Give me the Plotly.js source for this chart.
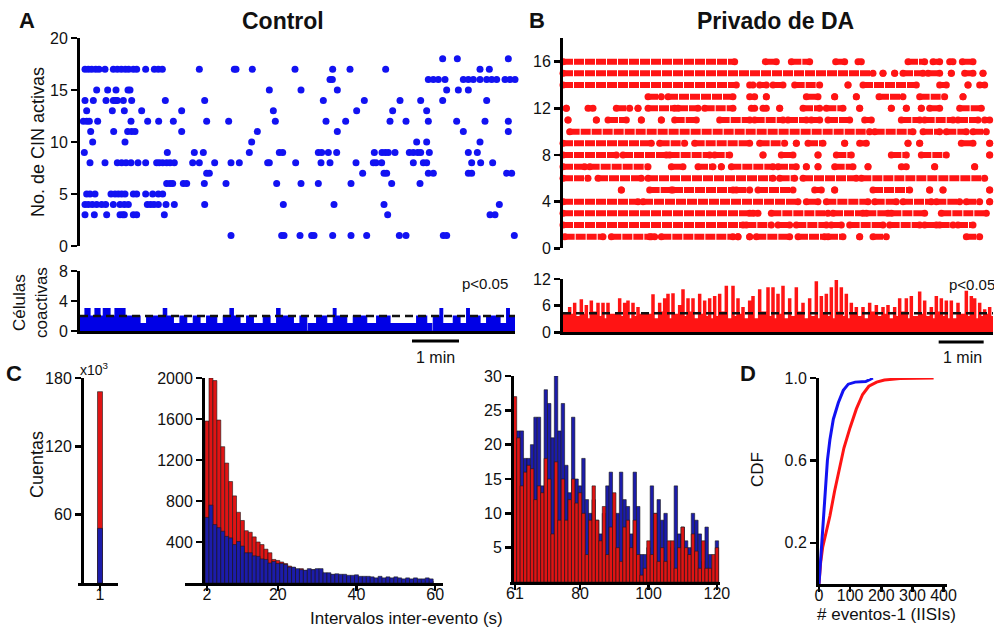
<!DOCTYPE html>
<html><head><meta charset="utf-8">
<script src="https://cdn.plot.ly/plotly-3.0.1.min.js"></script>
<style>html,body{margin:0;padding:0;background:#fff}#chart{width:994px;height:630px}</style>
</head><body><div id="chart"></div>
<script>
// ---------- Panel A raster (Control): event frames per cell ----------
const ctl18 = [1088,1132,1285];
const ctl17 = [15,25,35,47,57,75,100,112,124,136,146,160,170,197,223,235,247,358,463,468,517,645,758,810,917,1200,1228];
const ctl16 = [750,757,1045,1060,1075,1095,1150,1165,1180,1200,1220,1235,1250,1275,1290,1305];
const ctl15 = [50,83,108,144,150,568,663,772,1100,1135,1165];
const ctl14 = [15,40,78,100,107,112,130,155,256,374,730,853,960,1022,1088,1220];
const ctl13 = [20,97,133,185,305,580,830,938,1040];
const ctl12 = [10,20,28,53,153,203,236,280,380,446,586,738,797,930,978,1045,1130,1215,1285];
const ctl11 = [32,101,143,155,165,305,532,772,1150,1285];
const ctl10 = [38,135,515,1010,1040,1200];
const ctl9  = [13,262,343,370,508,598,608,715,725,745,770,883,906,916,925,945,988,1000,1013,1022,1048,1165,1192];
const ctl8  = [30,75,112,125,138,153,174,197,230,238,248,260,270,283,338,358,404,453,478,563,568,647,723,750,828,880,888,905,1000,1030,1040,1175,1202,1238];
const ctl7  = [380,388,848,912,920,1045,1060,1165,1175,1280,1295];
const ctl6  = [260,270,278,310,320,373,438,590,663,715,813,935,1020];
const ctl5  = [20,30,45,93,105,115,125,135,160,170,197,218,235,248];
const ctl4  = [15,25,37,50,65,77,100,120,133,145,202,212,222,235,258,283,374,610,762,912,1258];
const ctl3  = [15,43,80,120,128,133,160,170,253,923,1230,1245];
const ctl1  = [453,605,612,660,695,702,758,813,860,958,978,1090,1100,1303];

// ---------- Panel B raster (Privado de DA): active runs [start,end] per cell ----------
const da16 = [[0,515],[607,640],[685,740],[818,845],[885,895],[1035,1085],[1110,1130],[1160,1170],[1198,1230]];
const da15 = [[0,930],[960,960],[995,995],[1020,1080],[1095,1130],[1165,1165],[1205,1230],[1260,1260]];
const da14 = [[0,520],[560,570],[590,610],[630,660],[695,770],[855,855],[900,1060],[1130,1150],[1215,1215],[1250,1265]];
const da13 = [[255,295],[315,510],[560,575],[610,610],[730,765],[815,815],[880,880],[948,1020],[1070,1145],[1200,1200]];
const da12 = [[10,10],[75,90],[160,200],[225,225],[255,335],[345,405],[425,510],[565,575],[600,610],[650,650],[720,770],[790,840],[890,890],[985,985],[1030,1030],[1075,1075],[1100,1130],[1190,1255]];
const da11 = [[15,15],[100,100],[135,190],[235,235],[295,295],[335,400],[470,560],[575,660],[675,730],[745,770],[795,860],[905,925],[1015,1070],[1085,1170],[1185,1245],[1265,1280]];
const da10 = [[20,920],[935,1050],[1080,1130],[1150,1210],[1230,1270]];
const da9  = [[0,265],[290,365],[395,560],[590,665],[700,700],[735,780],[845,845],[890,910],[1035,1035],[1070,1070],[1195,1230],[1280,1280]];
const da8  = [[0,160],[180,310],[320,440],[455,500],[600,600],[655,690],[765,765],[820,865],[985,1030],[1075,1150],[1280,1280]];
const da7  = [[0,65],[80,255],[325,360],[405,450],[475,475],[505,630],[645,700],[730,730],[765,765],[815,870],[915,915],[1015,1030],[1115,1115],[1235,1235]];
const da6  = [[0,75],[105,235],[255,630],[650,695],[720,880],[895,1265]];
const da5  = [[175,175],[260,325],[330,510],[520,560],[585,690],[755,775],[815,815],[930,1040],[1100,1100],[1140,1140],[1280,1280]];
const da4  = [[0,225],[240,705],[730,765],[790,915],[935,1000],[1020,1105],[1120,1190],[1210,1250],[1280,1280]];
const da3  = [[0,560],[570,585],[625,795],[810,900],[910,975],[985,1085],[1135,1270]];
const da2  = [[0,540],[550,625],[645,680],[700,790],[805,835],[860,960],[980,1070],[1085,1120],[1130,1170],[1185,1230]];
const da1  = [[5,120],[145,260],[265,275],[295,510],[525,525],[560,560],[580,680],[705,785],[795,840],[890,890],[930,970],[1210,1250]];

// ---------- Coactive cells ----------
const coA_t = [0,15,30,45,60,70,90,105,135,180,200,250,260,280,300,320,340,360,380,410,430,450,460,480,500,520,550,570,590,600,640,660,680,685,710,740,760,768,800,820,860,890,930,960,1010,1040,1055,1060,1080,1088,1120,1140,1160,1168,1200,1220,1260,1280,1288];
const coA_v = [2,3,2,3,2,3,2,3,2,1,2,3,2,1,2,1,2,1,2,1,2,3,2,1,2,1,2,1,3,2,1,2,0,1,2,1,3,2,1,2,1,2,1,1,2,1,0,2,3,1,2,1,3,2,1,2,1,3,2];
const coA_end = 1305;
const threshA = 2.0;

const coB_peakT = [20,35,55,70,85,105,120,135,170,185,195,210,225,270,290,305,315,330,350,360,375,390,410,425,440,455,470,490,510,525,540,560,570,590,615,630,645,660,680,700,720,740,760,775,790,805,820,835,850,865,880,900,920,940,960,975,995,1010,1030,1045,1070,1085,1105,1120,1135,1150,1165,1185,1210,1225,1235,1250,1265,1280];
const coB_peakV = [5.5,6.5,7.3,6,7,6.5,6.5,6.5,7.5,6.5,7,6.5,5.5,8.4,6.5,7.5,8.5,8.6,6,9.5,7.5,7.5,8.5,7,7.5,8,8.5,10.3,10.3,7.5,5.5,7,8,9.5,10,10,8.5,10.3,7.5,10,6.5,7.5,11.3,8,8.5,10,11.6,10,8.5,6.5,5.5,5.5,6.5,6,5.5,6,5.5,7.5,7.5,8,9,7,5.5,8,7.5,7,7,6.5,9.2,8,7.5,6.5,5,5.5];
const coB_troughV = [4,3.5,4,3,4.5,3.5,3,4,3.5,4.5,3,3.5,4,3,4.5,3.5,3,4,3,3.5,4.5,3,4,3.5,3,3.5,4.5,3,3.5,4,3,3.5,3,4.5,3.5,3,4,3,3.5,4.5,3,3.5,3,4,3.5,3,4.5,3.5,3,4,3.5,3,4.5,3.5,4,3,3.5,4.5,3,3.5,4,3.5,3,4.5,3.5,3,3,4,3.5,4.5,3,3.5,4,3.5];
const coB_start = 4, coB_end = 1290;
const threshB = 4.3;

// ---------- Panel C histograms ----------
const c1Bin = [1];
const c1Red = [168];
const c1Blue = [48];

const c2Bins = [2,3,4,5,6,7,8,9,10,11,12,13,14,15,16,17,18,19,20,21,22,23,24,25,26,27,28,29,30,31,32,33,34,35,36,37,38,39,40,41,42,43,44,45,46,47,48,49,50,51,52,53,54,55,56,57,58,59];
const c2Red = [1580,2000,1975,1590,1330,1170,990,850,690,610,510,495,450,400,375,330,295,230,220,205,190,165,150,130,140,120,125,130,125,110,90,85,80,75,70,65,60,60,55,55,50,45,45,40,40,35,35,30,30,30,25,25,25,20,20,20,20,20];
const c2Blue = [640,760,570,540,505,455,440,375,405,360,295,295,265,260,235,230,195,210,190,190,180,155,155,140,130,125,140,130,140,140,100,100,85,90,85,85,75,75,80,65,65,65,60,50,65,50,60,50,60,50,40,50,40,50,40,40,50,40];

const c3Bins = [61,62,63,64,65,66,67,68,69,70,71,72,73,74,75,76,77,78,79,80,81,82,83,84,85,86,87,88,89,90,91,92,93,94,95,96,97,98,99,100,101,102,103,104,105,106,107,108,109,110,111,112,113,114,115,116,117,118,119,120];
const c3Red = [27,21,14,16,17,16.5,12,14,13,18,15,7,17.5,9,15,9,12,15,11.5,13,10,4,9,14,9,6,11,4,8,13,5,3,8,9,5,9,4,1,2,6,4,10,3,5,3,6,6,2,5,8,5,4,7,4.5,2,6,2,2,4,5];
const c3Blue = [20,22,22,18,18,20,24,24,14,28,26,21,30,22,26,17,13,24,15,14,18,12,10,12,9,7,10,14,16,9,10,16,12,11,7,16,11,4,4,5,14,10,12,9,10,3,5,14,7,8,6,5,10,9,7,3,8,4,2,6];

// ---------- Panel D CDF ----------
const cdfCtlX = [0,4,9,18,27,35,46,62,78,94,116,150,164,173];
const cdfCtlY = [0,0.1,0.2,0.4,0.6,0.7,0.8,0.88,0.94,0.97,0.98,0.983,0.993,1.0];
const cdfDaX = [0,5,12,22,35,50,65,80,100,120,140,160,185,210,260,368];
const cdfDaY = [0,0.1,0.18,0.24,0.33,0.45,0.56,0.66,0.76,0.85,0.92,0.96,0.98,0.99,0.997,1.0];

// ====================================================================
const W = 994, H = 630;
const fx = px => px / W;
const fy = py => 1 - py / H;
const FONT = 'Liberation Sans, Arial, Helvetica, sans-serif';
const BLUE = '#1212f2', RED = '#ff1414';
const HBLUE = '#1c1caa', HRED = '#e01414';

const traces = [];

// A raster
const ctlRows = [[18,ctl18],[17,ctl17],[16,ctl16],[15,ctl15],[14,ctl14],[13,ctl13],[12,ctl12],[11,ctl11],[10,ctl10],[9,ctl9],[8,ctl8],[7,ctl7],[6,ctl6],[5,ctl5],[4,ctl4],[3,ctl3],[1,ctl1]];
const ax = [], ay = [];
ctlRows.forEach(([r, arr]) => arr.forEach(t => { ax.push(t); ay.push(r); }));
traces.push({type:'scatter', mode:'markers', x:ax, y:ay, xaxis:'x', yaxis:'y',
  marker:{size:7, color:BLUE}, cliponaxis:false, hoverinfo:'skip'});

// B raster
const daRows = [[16,da16],[15,da15],[14,da14],[13,da13],[12,da12],[11,da11],[10,da10],[9,da9],[8,da8],[7,da7],[6,da6],[5,da5],[4,da4],[3,da3],[2,da2],[1,da1]];
const bx = [], by = [];
daRows.forEach(([r, runs]) => runs.forEach(([s, e]) => { bx.push(s, e, null); by.push(r, r, null); }));
traces.push({type:'scatter', mode:'lines+markers', x:bx, y:by, xaxis:'x3', yaxis:'y3',
  line:{color:RED, width:6, dash:'10px,1px'}, marker:{size:7, color:RED}, cliponaxis:false, connectgaps:false, hoverinfo:'skip'});

// A coactive
traces.push({type:'scatter', mode:'lines', x:coA_t.concat([coA_end]), y:coA_v.concat([coA_v[coA_v.length-1]]),
  xaxis:'x2', yaxis:'y2', line:{shape:'hv', color:'#0000e6', width:1.2}, fill:'tozeroy', fillcolor:'#0000e6', hoverinfo:'skip'});
traces.push({type:'scatter', mode:'lines', x:[0, coA_end], y:[threshA, threshA], xaxis:'x2', yaxis:'y2',
  line:{color:'#111', width:2.5, dash:'8px,5px'}, hoverinfo:'skip'});

// B coactive
const cbx = [0], cby = [coB_start];
coB_peakT.forEach((t, i) => { cbx.push(t - 3, t + 3); cby.push(coB_peakV[i], coB_troughV[i]); });
cbx.push(coB_end); cby.push(coB_troughV[coB_troughV.length-1]);
traces.push({type:'scatter', mode:'lines', x:cbx, y:cby, xaxis:'x4', yaxis:'y4',
  line:{shape:'hv', color:RED, width:1.5}, fill:'tozeroy', fillcolor:RED, hoverinfo:'skip'});
traces.push({type:'scatter', mode:'lines', x:[0, coB_end], y:[threshB, threshB], xaxis:'x4', yaxis:'y4',
  line:{color:'#111', width:2.5, dash:'8px,5px'}, hoverinfo:'skip'});

// C histograms
const barLine = {color:'#1a1a1a', width:0.6};
traces.push({type:'bar', x:c1Bin, y:c1Red, width:[0.25], xaxis:'x5', yaxis:'y5', marker:{color:HRED, line:barLine}, hoverinfo:'skip'});
traces.push({type:'bar', x:c1Bin, y:c1Blue, width:[0.25], xaxis:'x5', yaxis:'y5', marker:{color:HBLUE, line:barLine}, hoverinfo:'skip'});
traces.push({type:'bar', x:c2Bins, y:c2Red, width:1, xaxis:'x6', yaxis:'y6', marker:{color:HRED, line:barLine}, hoverinfo:'skip'});
traces.push({type:'bar', x:c2Bins, y:c2Blue, width:1, xaxis:'x6', yaxis:'y6', marker:{color:HBLUE, line:barLine}, hoverinfo:'skip'});
traces.push({type:'bar', x:c3Bins, y:c3Blue, width:1, xaxis:'x7', yaxis:'y7', marker:{color:HBLUE, line:barLine}, hoverinfo:'skip'});
traces.push({type:'bar', x:c3Bins, y:c3Red, width:1, xaxis:'x7', yaxis:'y7', marker:{color:HRED, line:barLine}, hoverinfo:'skip'});

// D CDF
traces.push({type:'scatter', mode:'lines', x:cdfDaX, y:cdfDaY, xaxis:'x8', yaxis:'y8', line:{color:RED, width:3}, hoverinfo:'skip'});
traces.push({type:'scatter', mode:'lines', x:cdfCtlX, y:cdfCtlY, xaxis:'x8', yaxis:'y8', line:{color:BLUE, width:3}, hoverinfo:'skip'});

// Axes
const tickfont = {family:FONT, size:16, color:'#111'};
const base = {showgrid:false, zeroline:false, showline:true, linecolor:'#000', linewidth:3,
  ticks:'outside', ticklen:6, tickwidth:2.5, tickcolor:'#000', tickfont:tickfont, fixedrange:true};
const hidden = {visible:false, showgrid:false, zeroline:false, fixedrange:true};
const xBottom = {ticklen:5, ticklabelstandoff:-10};

const layout = {
  width:W, height:H, margin:{l:0,r:0,t:0,b:0}, showlegend:false,
  paper_bgcolor:'#fff', plot_bgcolor:'rgba(0,0,0,0)', barmode:'overlay', bargap:0,
  font:{family:FONT, color:'#111'},
  // A raster
  xaxis: Object.assign({}, hidden, {domain:[fx(80), fx(518)], range:[0,1314], anchor:'y'}),
  yaxis: Object.assign({}, base, {domain:[fy(246), fy(38)], range:[0,20], tickvals:[0,5,10,15,20], anchor:'x'}),
  // A coactive
  xaxis2: Object.assign({}, base, {domain:[fx(80), fx(515)], range:[0,1305], anchor:'y2', ticks:'', showticklabels:false}),
  yaxis2: Object.assign({}, base, {domain:[fy(331), fy(271)], range:[0,8], tickvals:[0,4,8], anchor:'x2'}),
  // B raster
  xaxis3: Object.assign({}, hidden, {domain:[fx(563), fx(993)], range:[0,1290], anchor:'y3'}),
  yaxis3: Object.assign({}, base, {domain:[fy(248.3), fy(38.3)], range:[0,18], tickvals:[0,4,8,12,16], anchor:'x3'}),
  // B coactive
  xaxis4: Object.assign({}, base, {domain:[fx(563), fx(993)], range:[0,1290], anchor:'y4', ticks:'', showticklabels:false}),
  yaxis4: Object.assign({}, base, {domain:[fy(332.3), fy(279)], range:[0,12], tickvals:[0,6,12], anchor:'x4'}),
  // C1
  xaxis5: Object.assign({}, base, xBottom, {domain:[fx(78), fx(118)], range:[-0.1,1.9], tickvals:[1], anchor:'y5'}),
  yaxis5: Object.assign({}, base, {domain:[fy(583), fy(378)], range:[0,180], tickvals:[60,120,180], anchor:'free', position:fx(82)}),
  // C2
  xaxis6: Object.assign({}, base, xBottom, {domain:[fx(185), fx(443)], range:[-3.6,62], tickvals:[2,20,40,60], anchor:'y6'}),
  yaxis6: Object.assign({}, base, {domain:[fy(583), fy(378)], range:[0,2000], tickvals:[400,800,1200,1600,2000], anchor:'free', position:fx(203)}),
  // C3
  xaxis7: Object.assign({}, base, xBottom, {domain:[fx(510), fx(720)], range:[59.54,120.9], tickvals:[61,80,100,120], anchor:'y7'}),
  yaxis7: Object.assign({}, base, {domain:[fy(582), fy(376)], range:[0,30], tickvals:[5,10,15,20,25,30], anchor:'free', position:fx(512)}),
  // D
  xaxis8: Object.assign({}, base, xBottom, {domain:[fx(819), fx(947)], range:[0,411], tickvals:[0,100,200,300,400], anchor:'y8'}),
  yaxis8: Object.assign({}, base, {domain:[fy(584), fy(378)], range:[0,1], tickvals:[0.2,0.6,1.0], ticktext:['0.2','0.6','1.0'], anchor:'x8'}),
  shapes: [
    {type:'line', xref:'x2', yref:'paper', x0:996, x1:1137, y0:fy(341), y1:fy(341), line:{color:'#000', width:3}},
    {type:'line', xref:'x4', yref:'paper', x0:1127, x1:1262, y0:fy(342), y1:fy(342), line:{color:'#000', width:3}}
  ],
  annotations: []
};

function note(text, px, py, opts) {
  layout.annotations.push(Object.assign({text:text, xref:'paper', yref:'paper', x:fx(px), y:fy(py),
    showarrow:false, xanchor:'center', yanchor:'middle', font:{family:FONT, size:17, color:'#111'}}, opts || {}));
}
const bold = s => '<b>' + s + '</b>';
note(bold('A'), 27, 20, {font:{family:FONT, size:22, color:'#111'}});
note(bold('B'), 537, 20, {font:{family:FONT, size:22, color:'#111'}});
note(bold('C'), 14, 373, {font:{family:FONT, size:22, color:'#111'}});
note(bold('D'), 748, 373, {font:{family:FONT, size:22, color:'#111'}});
note(bold('Control'), 283, 21, {font:{family:FONT, size:23, color:'#111'}});
note(bold('Privado de DA'), 775, 21, {font:{family:FONT, size:23, color:'#111'}});
note('No. de CIN activas', 38, 142, {textangle:-90, font:{family:FONT, size:18, color:'#111'}});
note('Células<br>coactivas', 30, 303, {textangle:-90, font:{family:FONT, size:17, color:'#111'}});
note('p&lt;0.05', 485, 284, {font:{family:FONT, size:15, color:'#111'}});
note('p&lt;0.05', 972, 285, {font:{family:FONT, size:15, color:'#111'}});
note('1 min', 435, 357, {font:{family:FONT, size:16, color:'#111'}});
note('1 min', 962, 357, {font:{family:FONT, size:16, color:'#111'}});
note('x10<sup>3</sup>', 94, 369, {font:{family:FONT, size:14, color:'#111'}});
note('Cuentas', 37, 465, {textangle:-90, font:{family:FONT, size:18, color:'#111'}});
note('Intervalos inter-evento (s)', 406, 618, {font:{family:FONT, size:17, color:'#111'}});
note('CDF', 757, 470, {textangle:-90, font:{family:FONT, size:17, color:'#111'}});
note('# eventos-1 (IISIs)', 886, 614, {font:{family:FONT, size:17, color:'#111'}});

Plotly.newPlot('chart', traces, layout, {staticPlot:true, displayModeBar:false});
</script></body></html>
